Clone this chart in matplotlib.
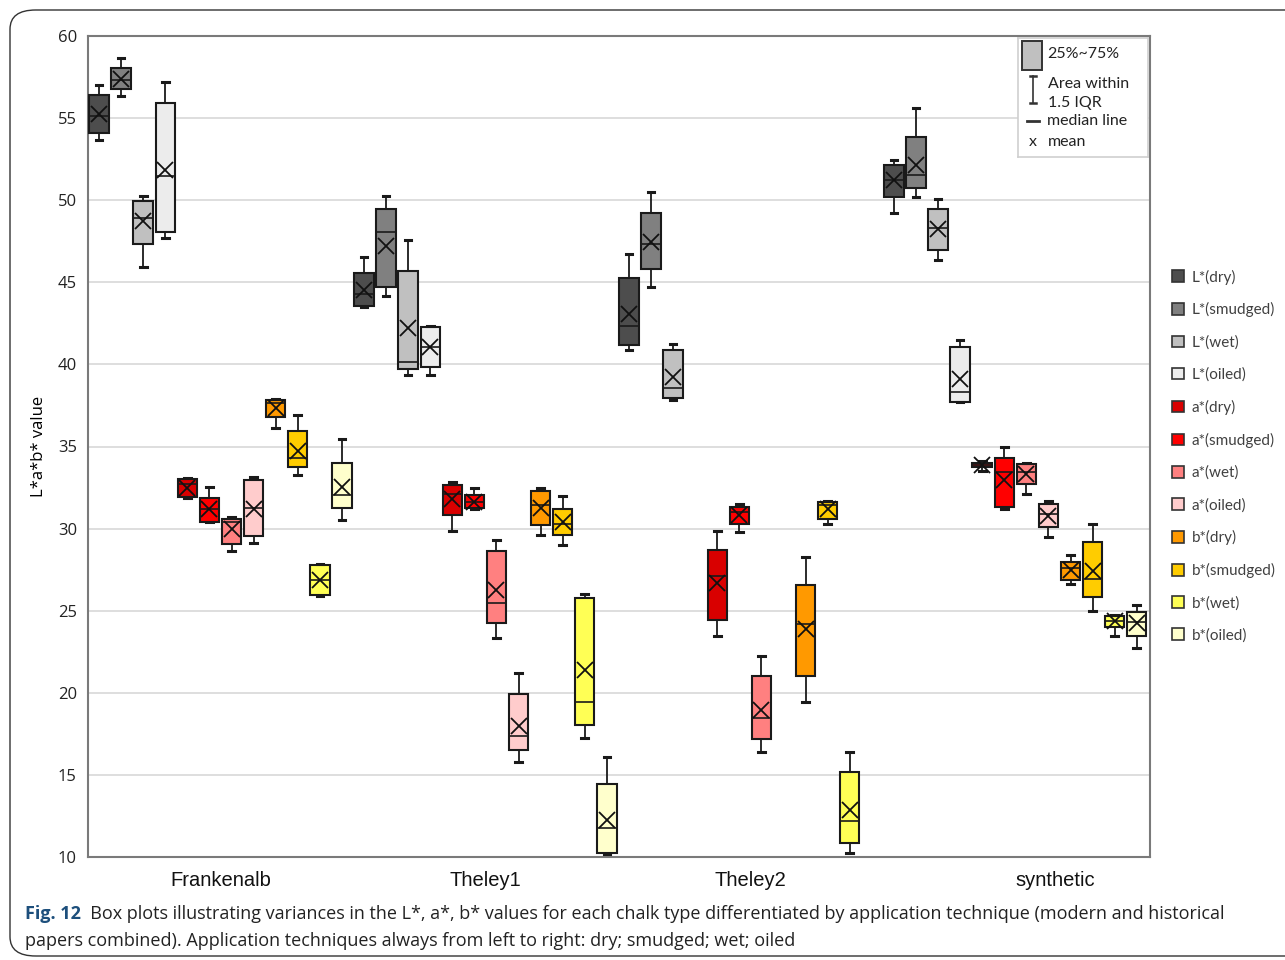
import matplotlib

matplotlib.use("Agg")
import matplotlib.pyplot as plt
from matplotlib.patches import Patch, Rectangle, FancyBboxPatch

# chalk types (groups along the x axis)
groups = ["Frankenalb", "Theley1", "Theley2", "synthetic"]
group_label_pos = [5.5, 17.5, 29.5, 43.3]

series = ["L*(dry)", "L*(smudged)", "L*(wet)", "L*(oiled)",
          "a*(dry)", "a*(smudged)", "a*(wet)", "a*(oiled)",
          "b*(dry)", "b*(smudged)", "b*(wet)", "b*(oiled)"]
colors = ["#4d4d4d", "#808080", "#c0c0c0", "#ececec",
          "#d90000", "#ff0000", "#ff8080", "#ffcccc",
          "#ff9900", "#ffcc00", "#ffff55", "#ffffcc"]

# per box: (whislo, q1, median, q3, whishi, mean); None = no data
frankenalb = [
    (53.65, 54.10, 55.12, 56.40, 57.01, 55.24),
    (56.36, 56.78, 57.31, 58.06, 58.64, 57.37),
    (45.92, 47.34, 48.93, 49.97, 50.25, 48.71),
    (47.71, 48.08, 51.45, 55.93, 57.21, 51.86),
    (31.88, 31.92, 32.73, 33.00, 33.10, 32.48),
    (30.39, 30.43, 31.17, 31.87, 32.53, 31.17),
    (28.62, 29.09, 30.40, 30.56, 30.71, 29.98),
    (29.11, 29.54, 31.25, 32.94, 33.14, 31.20),
    (36.15, 36.80, 37.67, 37.82, 37.88, 37.37),
    (33.24, 33.75, 34.28, 35.93, 36.92, 34.73),
    (25.87, 25.98, 26.89, 27.77, 27.85, 26.89),
    (30.51, 31.25, 32.04, 33.99, 35.46, 32.53),
]
theley1 = [
    (43.52, 43.56, 44.27, 45.57, 46.57, 44.54),
    (44.19, 44.74, 48.05, 49.44, 50.23, 47.24),
    (39.35, 39.71, 40.12, 45.71, 47.59, 42.19),
    (39.35, 39.87, 41.03, 42.30, 42.32, 41.07),
    (29.88, 30.80, 32.08, 32.65, 32.83, 31.78),
    (31.20, 31.23, 31.61, 32.04, 32.48, 31.61),
    (23.33, 24.27, 25.46, 28.62, 29.33, 26.28),
    (15.80, 16.51, 17.39, 19.93, 21.23, 18.00),
    (29.58, 30.19, 31.43, 32.28, 32.48, 31.26),
    (28.99, 29.58, 30.25, 31.20, 31.98, 30.39),
    (17.22, 18.04, 19.42, 25.77, 26.04, 21.40),
    (10.20, 10.26, 11.77, 14.44, 16.11, 12.24),
]
theley2 = [
    (40.89, 41.20, 42.36, 45.24, 46.73, 43.07),
    (44.69, 45.78, 47.34, 49.24, 50.49, 47.44),
    (37.84, 37.98, 38.55, 40.89, 41.24, 39.24),
    None,
    (23.43, 24.45, 27.09, 28.72, 29.88, 26.68),
    (29.78, 30.25, 31.02, 31.31, 31.47, 30.82),
    (16.41, 17.19, 18.49, 21.03, 22.27, 18.96),
    None,
    (19.42, 21.03, 24.21, 26.54, 28.25, 23.88),
    (30.25, 30.56, 31.43, 31.63, 31.67, 31.17),
    (10.26, 10.87, 12.18, 15.19, 16.41, 12.85),
    None,
]
synthetic = [
    (49.21, 50.19, 51.21, 52.12, 52.43, 51.21),
    (50.19, 50.76, 51.56, 53.82, 55.59, 52.12),
    (46.37, 46.94, 48.30, 49.48, 50.09, 48.26),
    (37.68, 37.72, 38.33, 41.03, 41.48, 39.14),
    (33.50, 33.75, 33.90, 34.01, 34.11, 33.86),
    (31.20, 31.31, 33.46, 34.28, 34.97, 32.94),
    (32.08, 32.69, 33.46, 33.95, 33.99, 33.34),
    (29.47, 30.09, 30.86, 31.47, 31.67, 30.76),
    (26.62, 26.89, 27.60, 27.97, 28.42, 27.46),
    (25.00, 25.83, 26.95, 29.19, 30.25, 27.40),
    (23.43, 23.98, 24.39, 24.65, 24.71, 24.39),
    (22.72, 23.43, 24.30, 24.91, 25.37, 24.24),
]
group_data = [frankenalb, theley1, theley2, synthetic]

caption_bold = "Fig. 12"
caption_text = ("  Box plots illustrating variances in the L*, a*, b* values for each chalk type "
                "differentiated by application technique (modern and historical\n"
                "papers combined). Application techniques always from left to right: dry; smudged; wet; oiled")

fig = plt.figure(figsize=(12.85, 9.6), dpi=100)
W, H = 1285, 960

# rounded frame around the figure
frame = FancyBboxPatch((10 / W, 4 / H), 1.2, (950 - 4) / H,
                       boxstyle="round,pad=0,rounding_size=0.02",
                       transform=fig.transFigure, facecolor="none",
                       edgecolor="#333333", linewidth=1.0)
fig.patches.append(frame)

ax = fig.add_axes([88 / W, 1 - 857 / H, (1150 - 88) / W, (857 - 36) / H])

stats, positions, facecols = [], [], []
for g, rows in enumerate(group_data):
    for s, row in enumerate(rows):
        if row is None:
            continue
        lo, q1, med, q3, hi, mean = row
        stats.append(dict(whislo=lo, q1=q1, med=med, q3=q3, whishi=hi, mean=mean, fliers=[]))
        positions.append(g * len(series) + s)
        facecols.append(colors[s])

bp = ax.bxp(stats, positions=positions, widths=0.88, capwidths=0.3,
            showmeans=True, patch_artist=True, manage_ticks=False,
            boxprops=dict(edgecolor="#1a1a1a", linewidth=1.5),
            medianprops=dict(color="#1a1a1a", linewidth=1.2),
            whiskerprops=dict(color="#1a1a1a", linewidth=1.3),
            capprops=dict(color="#1a1a1a", linewidth=2.2),
            meanprops=dict(marker="x", markeredgecolor="#111111",
                           markersize=11, markeredgewidth=1.3))
for patch, c in zip(bp["boxes"], facecols):
    patch.set_facecolor(c)
for art in bp["boxes"] + bp["medians"] + bp["whiskers"] + bp["caps"] + bp["means"]:
    art.set_zorder(3)

ax.set_xlim(-0.5, 47.6)
ax.set_ylim(10, 60)
ax.set_yticks(range(10, 61, 5))
ax.yaxis.grid(True, color="#dedede", linewidth=1.4)
ax.set_axisbelow(True)
ax.tick_params(axis="y", length=0, labelsize=12, pad=8, labelcolor="#222222")
ax.tick_params(axis="x", length=0, pad=10)
for lab in ax.get_yticklabels():
    lab.set_family("Open Sans")
ax.set_xticks(group_label_pos)
ax.set_xticklabels(groups, fontsize=14.5, family="Liberation Sans", color="#111111")
for sp in ax.spines.values():
    sp.set_color("#7a7a7a")
    sp.set_linewidth(1.5)
ax.set_ylabel("L*a*b* value", fontsize=12, family="Open Sans", labelpad=8)

# legend of the series, right of the plot
handles = [Patch(facecolor=c, edgecolor="#333333", linewidth=1.2) for c in colors]
fig.legend(handles, series, loc="center left", bbox_to_anchor=(1172 / W, 1 - 456 / H),
           frameon=False, labelspacing=1.17, handlelength=0.8,
           handleheight=0.8, handletextpad=0.5, borderpad=0, borderaxespad=0,
           labelcolor="#404040", prop=dict(family="Lato", size=11))

# key for the box symbols, top right inside the plot
key = ax.inset_axes([(1018 - 88) / 1062, (857 - 157) / 821, 130 / 1062, 119 / 821])
key.set_xlim(0, 130)
key.set_ylim(119, 0)
key.set_xticks([])
key.set_yticks([])
for sp in key.spines.values():
    sp.set_color("#cfcfcf")
    sp.set_linewidth(1.2)
key.add_patch(Rectangle((4, 3), 20, 29, facecolor="#c0c0c0", edgecolor="#333333", linewidth=1.4))
key.plot([15, 15], [38, 65], color="#333333", lw=1.2)
key.plot([12, 18], [38, 38], color="#333333", lw=1.8)
key.plot([12, 18], [65, 65], color="#333333", lw=1.8)
key.plot([9, 21], [83, 83], color="#333333", lw=2.0)
key_font = dict(family="Lato", fontsize=11.5, color="#222222", va="center")
key.text(29, 16, "25%~75%", **key_font)
key.text(30, 46, "Area within", **key_font)
key.text(30, 65, "1.5 IQR", **key_font)
key.text(29, 83, "median line", **key_font)
key.text(15, 104, "x", ha="center", **key_font)
key.text(30, 104, "mean", **key_font)

# caption
t = fig.text(25 / W, 1 - 914 / H, caption_bold, fontsize=13, family="Open Sans",
             fontweight="bold", color="#1d4f7c", va="center")
fig.canvas.draw()
bb = t.get_window_extent()
fig.text(bb.x1 / W, 1 - 914 / H, caption_text.split("\n")[0], fontsize=13,
         family="Open Sans", color="#222222", va="center")
fig.text(25 / W, 1 - 941 / H, caption_text.split("\n")[1], fontsize=13,
         family="Open Sans", color="#222222", va="center")

fig.savefig("out.png", dpi=100)
